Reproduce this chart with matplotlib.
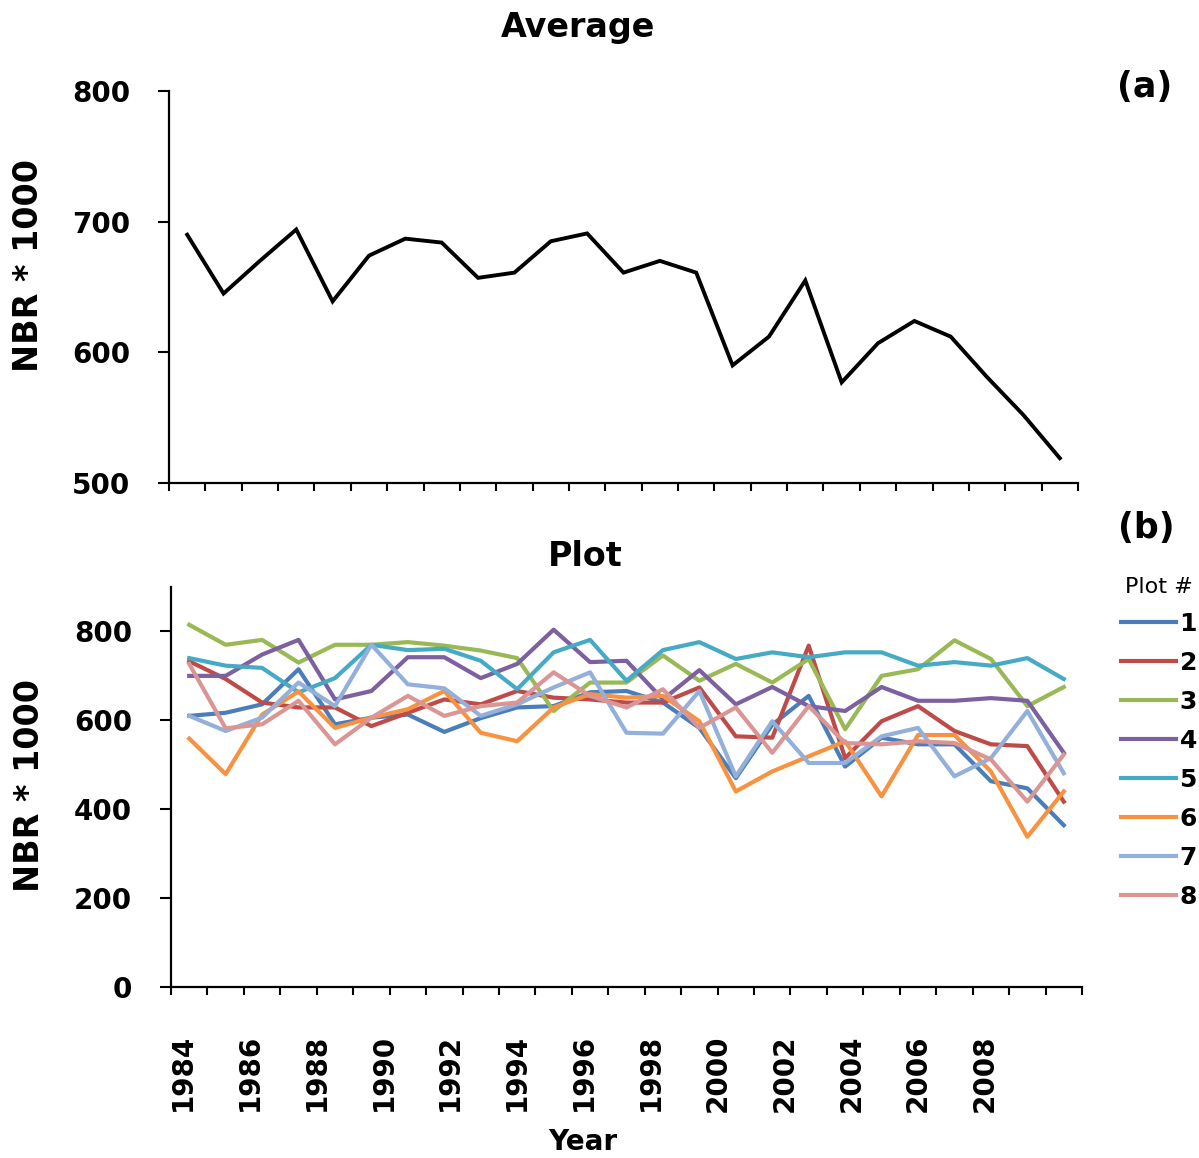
import numpy as np
import matplotlib.pyplot as plt

# NBR * 1000 time series, one value per acquisition
average = [690, 645, 670, 694, 639, 674, 687, 684, 657, 661, 685, 691, 661,
           670, 661, 590, 612, 655, 577, 607, 624, 612, 581, 552, 519]

plot_1 = [610, 617, 636, 715, 591, 606, 613, 574, 605, 629, 632, 663, 666,
          640, 583, 470, 590, 655, 496, 561, 546, 546, 463, 447, 364]
plot_2 = [733, 693, 640, 629, 629, 587, 617, 647, 636, 666, 651, 647, 640,
          640, 674, 564, 561, 768, 515, 598, 632, 576, 546, 542, 417]
plot_3 = [815, 770, 781, 730, 770, 770, 776, 768, 757, 740, 621, 685, 685,
          746, 689, 727, 685, 738, 580, 700, 715, 780, 738, 632, 675]
plot_4 = [700, 700, 748, 781, 647, 666, 742, 742, 695, 727, 804, 731, 734,
          647, 713, 636, 675, 632, 621, 675, 644, 644, 650, 644, 527]
plot_5 = [740, 723, 718, 663, 695, 770, 758, 761, 734, 670, 753, 781, 689,
          758, 776, 738, 753, 742, 753, 753, 723, 731, 723, 740, 693]
plot_6 = [559, 479, 613, 665, 583, 606, 625, 666, 572, 553, 629, 659, 651,
          655, 598, 440, 485, 519, 553, 429, 567, 567, 485, 338, 440]
plot_7 = [610, 576, 606, 685, 632, 770, 681, 672, 610, 636, 674, 708, 572,
          570, 666, 474, 598, 504, 504, 564, 583, 474, 515, 621, 481]
plot_8 = [727, 582, 591, 644, 546, 606, 655, 610, 632, 640, 708, 655, 629,
          670, 583, 629, 527, 632, 549, 546, 553, 549, 512, 417, 523]

plots = [plot_1, plot_2, plot_3, plot_4, plot_5, plot_6, plot_7, plot_8]
plot_names = ["1", "2", "3", "4", "5", "6", "7", "8"]
plot_colors = ["#4a7ebb", "#be4b48", "#98b954", "#7d60a0",
               "#46aac5", "#f69240", "#93b0da", "#d99694"]

year_labels = ["1984", "1986", "1988", "1990", "1992", "1994", "1996",
               "1998", "2000", "2002", "2004", "2006", "2008"]

x = np.arange(len(average))
W, H = 1199, 1158

fig = plt.figure(figsize=(W / 100, H / 100), dpi=100)
ax1 = fig.add_axes([169 / W, 1 - 483 / H, 909 / W, 392 / H])
ax2 = fig.add_axes([171 / W, 1 - 987 / H, 911 / W, 400 / H])


def style_axis(ax):
    for side in ["top", "right"]:
        ax.spines[side].set_visible(False)
    for side in ["left", "bottom"]:
        ax.spines[side].set_linewidth(1.6)
    ax.set_xlim(-0.5, len(average) - 0.5)
    ax.set_xticks(np.arange(-0.5, len(average), 1))
    ax.tick_params(axis="x", which="major", length=6, width=1.5, labelbottom=False)
    ax.tick_params(axis="y", length=8, width=1.5, pad=20, labelsize=20)
    ax.set_ylabel("NBR * 1000", fontsize=24, fontweight="bold", va="center")


# (a) average
ax1.plot(x, average, color="black", lw=2.8, solid_joinstyle="miter")
ax1.set_ylim(500, 800)
ax1.set_yticks([500, 600, 700, 800])
style_axis(ax1)
ax1.yaxis.set_label_coords(-0.155, 0.556)
ax1.text(0.45, 1.163, "Average", transform=ax1.transAxes, ha="center",
         va="center", fontsize=24, fontweight="bold")

# (b) individual plots
for vals, name, col in zip(plots, plot_names, plot_colors):
    ax2.plot(x, vals, color=col, lw=3.0, label=name)
ax2.set_ylim(0, 900)
ax2.set_yticks([0, 200, 400, 600, 800])
style_axis(ax2)
ax2.yaxis.set_label_coords(-0.155, 0.505)
ax2.text(0.455, 1.0775, "Plot", transform=ax2.transAxes, ha="center",
         va="center", fontsize=24, fontweight="bold")

# year labels sit on minor ticks, every second year
label_pos = np.linspace(-0.17, 21.84, len(year_labels))
ax2.set_xticks(label_pos, minor=True)
ax2.set_xticklabels(year_labels, minor=True, rotation=90, fontsize=20,
                    fontweight="bold")
ax2.tick_params(axis="x", which="minor", length=0, pad=34)
ax2.set_xlabel("Year", fontsize=20, fontweight="bold")
ax2.xaxis.set_label_coords(0.452, -0.352)

for lbl in ax1.get_yticklabels() + ax2.get_yticklabels():
    lbl.set_fontweight("bold")

leg = ax2.legend(loc="upper right", bbox_to_anchor=(1197 / W, 1 - 577 / H),
                 bbox_transform=fig.transFigure, frameon=False,
                 prop={"size": 18, "weight": "bold"}, title="Plot #",
                 title_fontsize=16, handlelength=2.2, handletextpad=0.15,
                 labelspacing=0.6, borderpad=0, borderaxespad=0)

fig.text(1145 / W, 1 - 87 / H, "(a)", ha="center", va="center",
         fontsize=25, fontweight="bold")
fig.text(1146 / W, 1 - 528 / H, "(b)", ha="center", va="center",
         fontsize=25, fontweight="bold")

fig.savefig("out.png", dpi=100)
